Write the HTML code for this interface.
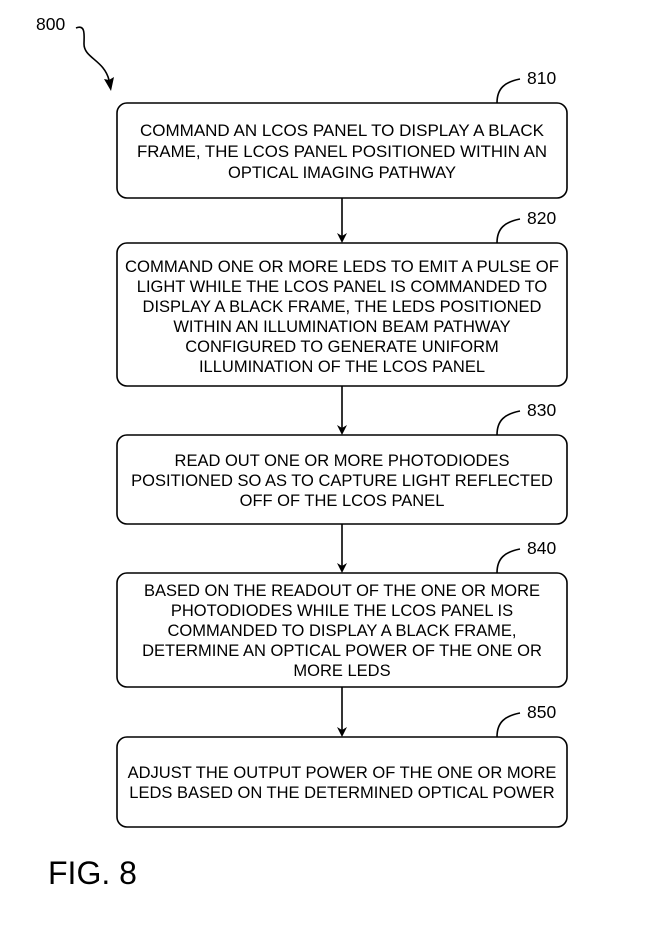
<!DOCTYPE html>
<html><head><meta charset="utf-8"><style>
html,body{margin:0;padding:0;background:#fff;}
svg{display:block;}
text{font-family:"Liberation Sans",Arial,sans-serif;fill:#000;}
</style></head><body>
<svg width="646" height="927" viewBox="0 0 646 927" xmlns="http://www.w3.org/2000/svg">
<g fill="none" stroke="#000" stroke-width="1.6">
<rect x="117" y="103" width="450" height="95" rx="10"/>
<rect x="117" y="243" width="450" height="143" rx="10"/>
<rect x="117" y="435" width="450" height="89" rx="10"/>
<rect x="117" y="573" width="450" height="114" rx="10"/>
<rect x="117" y="737" width="450" height="90" rx="10"/>
<path d="M342,198 V236"/>
<path d="M342,386 V428"/>
<path d="M342,524 V566"/>
<path d="M342,687 V730"/>
<path d="M497,103 C497,88 505,82 520,79"/>
<path d="M497,243 C497,228 505,222 520,219"/>
<path d="M497,435 C497,420 505,414 520,411"/>
<path d="M497,573 C497,558 505,552 520,549"/>
<path d="M497,737 C497,722 505,716 520,713"/>
<path d="M76,28 C86,24 84,36 84,44 C84,58 104,60 109,80"/>
</g>
<g fill="#000">
<polygon points="337,233 342,243 347,233 342,236"/>
<polygon points="337,425 342,435 347,425 342,428"/>
<polygon points="337,563 342,573 347,563 342,566"/>
<polygon points="337,727 342,737 347,727 342,730"/>
<polygon points="104,79 111,91 114,77 109,80"/>
</g>
<g font-size="17.5">
<text x="527" y="84">810</text>
<text x="527" y="224">820</text>
<text x="527" y="416">830</text>
<text x="527" y="554">840</text>
<text x="527" y="718">850</text>
<text x="36" y="30">800</text>
</g>
<g font-size="16.5" text-anchor="middle">
<text x="342" y="136" textLength="404" lengthAdjust="spacingAndGlyphs">COMMAND AN LCOS PANEL TO DISPLAY A BLACK</text>
<text x="342" y="157" textLength="410" lengthAdjust="spacingAndGlyphs">FRAME, THE LCOS PANEL POSITIONED WITHIN AN</text>
<text x="342" y="178">OPTICAL IMAGING PATHWAY</text>
<text x="342" y="272" textLength="434" lengthAdjust="spacingAndGlyphs">COMMAND ONE OR MORE LEDS TO EMIT A PULSE OF</text>
<text x="342" y="292">LIGHT WHILE THE LCOS PANEL IS COMMANDED TO</text>
<text x="342" y="312">DISPLAY A BLACK FRAME, THE LEDS POSITIONED</text>
<text x="342" y="332">WITHIN AN ILLUMINATION BEAM PATHWAY</text>
<text x="342" y="352">CONFIGURED TO GENERATE UNIFORM</text>
<text x="342" y="372">ILLUMINATION OF THE LCOS PANEL</text>
<text x="342" y="466">READ OUT ONE OR MORE PHOTODIODES</text>
<text x="342" y="486">POSITIONED SO AS TO CAPTURE LIGHT REFLECTED</text>
<text x="342" y="506">OFF OF THE LCOS PANEL</text>
<text x="342" y="596">BASED ON THE READOUT OF THE ONE OR MORE</text>
<text x="342" y="616">PHOTODIODES WHILE THE LCOS PANEL IS</text>
<text x="342" y="636">COMMANDED TO DISPLAY A BLACK FRAME,</text>
<text x="342" y="656">DETERMINE AN OPTICAL POWER OF THE ONE OR</text>
<text x="342" y="676">MORE LEDS</text>
<text x="342" y="778">ADJUST THE OUTPUT POWER OF THE ONE OR MORE</text>
<text x="342" y="798">LEDS BASED ON THE DETERMINED OPTICAL POWER</text>
</g>
<text x="48" y="884" font-size="32">FIG. 8</text>
</svg>
</body></html>
